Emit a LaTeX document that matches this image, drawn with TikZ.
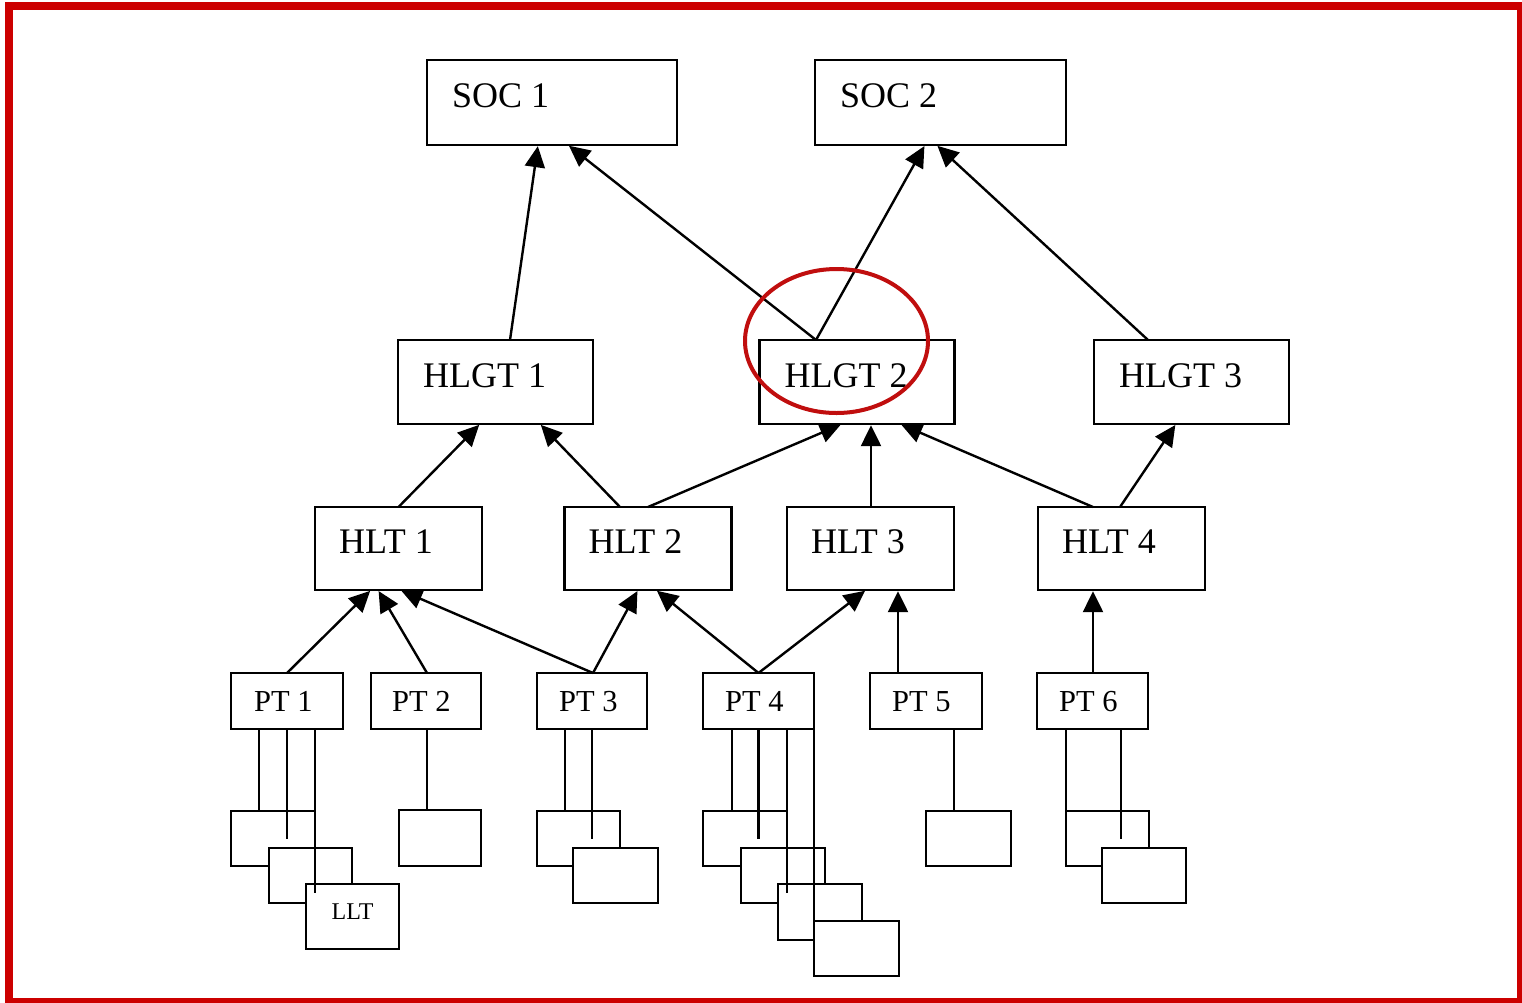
\documentclass[tikz,border=0pt]{standalone}
\usepackage{fontspec}
\setmainfont{Liberation Serif}
\usetikzlibrary{arrows.meta}
\definecolor{bordred}{RGB}{204,0,0}
\definecolor{markred}{RGB}{192,14,14}
\begin{document}
\begin{tikzpicture}[x=1pt,y=-1pt,
  box/.style={draw, line width=2.7pt, fill=white, inner sep=0pt, outer sep=0pt},
  socbox/.style={box, minimum width=250pt, minimum height=85pt},
  hlgtbox/.style={box, minimum width=195pt, minimum height=84pt},
  hltbox/.style={box, minimum width=167pt, minimum height=83pt},
  ptbox/.style={box, minimum width=111pt, minimum height=56pt},
  lltbox/.style={box, minimum width=84pt, minimum height=55pt},
  arr/.style={line width=2.4pt, -{Triangle[length=21pt,width=20pt]}, shorten >=1.2pt},
  link/.style={line width=2.5pt},
  bigtxt/.style={font=\fontsize{36}{40}\selectfont, anchor=base west, inner sep=0pt},
  pttxt/.style={font=\fontsize{30.5}{33}\selectfont, anchor=base west, inner sep=0pt},
  llttxt/.style={font=\fontsize{24}{26}\selectfont, anchor=base, inner sep=0pt}]
\useasboundingbox (0,0) rectangle (1522,1002);
\fill[white] (0,0) rectangle (1522,1002);
\draw[bordred, line width=8pt] (9,6) rectangle (1521,1002);

% top level
\node[socbox] (soc1) at (552,102.5) {};
\node[socbox, minimum width=251pt] (soc2) at (940.5,102.5) {};
\node[bigtxt] (tsoc1) at ([shift={(25pt,-47pt)}]soc1.north west) {SOC 1};
\node[bigtxt] (tsoc2) at ([shift={(25pt,-47pt)}]soc2.north west) {SOC 2};

% HLGT
\node[hlgtbox] (hlgt1) at (495.5,382) {};
\node[hlgtbox] (hlgt2) at (857,382) {};
\node[hlgtbox] (hlgt3) at (1191.5,382) {};
\node[bigtxt] (thlgt1) at ([shift={(25pt,-47pt)}]hlgt1.north west) {HLGT 1};
\node[bigtxt] (thlgt2) at ([shift={(25pt,-47pt)}]hlgt2.north west) {HLGT 2};
\node[bigtxt] (thlgt3) at ([shift={(25pt,-47pt)}]hlgt3.north west) {HLGT 3};

% HLT
\node[hltbox] (hlt1) at (398.5,548.5) {};
\node[hltbox] (hlt2) at (648,548.5) {};
\node[hltbox] (hlt3) at (870.5,548.5) {};
\node[hltbox] (hlt4) at (1121.5,548.5) {};
\node[bigtxt] (thlt1) at ([shift={(24pt,-46pt)}]hlt1.north west) {HLT 1};
\node[bigtxt] (thlt2) at ([shift={(24pt,-46pt)}]hlt2.north west) {HLT 2};
\node[bigtxt] (thlt3) at ([shift={(24pt,-46pt)}]hlt3.north west) {HLT 3};
\node[bigtxt] (thlt4) at ([shift={(24pt,-46pt)}]hlt4.north west) {HLT 4};

% PT
\node[ptbox, minimum width=112pt] (pt1) at (287,701) {};
\node[ptbox, minimum width=110pt] (pt2) at (426,701) {};
\node[ptbox, minimum width=110pt] (pt3) at (592,701) {};
\node[ptbox] (pt4) at (758.5,701) {};
\node[ptbox, minimum width=112pt] (pt5) at (926,701) {};
\node[ptbox] (pt6) at (1092.5,701) {};
\node[pttxt] (tpt1) at ([shift={(23pt,-38pt)}]pt1.north west) {PT 1};
\node[pttxt] (tpt2) at ([shift={(21pt,-38pt)}]pt2.north west) {PT 2};
\node[pttxt] (tpt3) at ([shift={(22pt,-38pt)}]pt3.north west) {PT 3};
\node[pttxt] (tpt4) at ([shift={(22pt,-38pt)}]pt4.north west) {PT 4};
\node[pttxt] (tpt5) at ([shift={(22pt,-38pt)}]pt5.north west) {PT 5};
\node[pttxt] (tpt6) at ([shift={(22pt,-38pt)}]pt6.north west) {PT 6};

% arrows to SOC
\draw[arr] ([xshift=14.5pt]hlgt1.north) -- ([xshift=-14pt]soc1.south);
\draw[arr] ([xshift=-41pt]hlgt2.north) -- ([xshift=16pt]soc1.south);
\draw[arr] ([xshift=-41pt]hlgt2.north) -- ([xshift=-15.5pt]soc2.south);
\draw[arr] ([xshift=-43.5pt]hlgt3.north) -- ([xshift=-4pt]soc2.south);

% arrows to HLGT
\draw[arr] ([xshift=0pt]hlt1.north) -- ([xshift=-15.5pt]hlgt1.south);
\draw[arr] ([xshift=-28pt]hlt2.north) -- ([xshift=44.5pt]hlgt1.south);
\draw[arr] ([xshift=0pt]hlt2.north) -- ([xshift=-15pt]hlgt2.south);
\draw[arr] ([xshift=0.5pt]hlt3.north) -- ([xshift=14pt]hlgt2.south);
\draw[arr] ([xshift=-28.5pt]hlt4.north) -- ([xshift=43pt]hlgt2.south);
\draw[arr] ([xshift=-1.5pt]hlt4.north) -- ([xshift=-15.5pt]hlgt3.south);

% arrows to HLT
\draw[arr] (pt1.north) -- ([xshift=-27.5pt]hlt1.south);
\draw[arr] ([xshift=1pt]pt2.north) -- ([xshift=-20.5pt]hlt1.south);
\draw[arr] ([xshift=1pt]pt3.north) -- ([xshift=1.5pt]hlt1.south);
\draw[arr] ([xshift=1pt]pt3.north) -- ([xshift=-10pt]hlt2.south);
\draw[arr] (pt4.north) -- ([xshift=8pt]hlt2.south);
\draw[arr] (pt4.north) -- ([xshift=-4.5pt]hlt3.south);
\draw[arr] ([xshift=-28pt]pt5.north) -- ([xshift=27.5pt]hlt3.south);
\draw[arr] ([xshift=0.5pt]pt6.north) -- ([xshift=-28.5pt]hlt4.south);

% LLT boxes, PT 1
\node[lltbox] (l1a) at (273,838.5) {};
\node[lltbox, minimum width=83pt] (l1b) at (310.5,875.5) {};
\node[lltbox, minimum width=93pt, minimum height=65pt] (l1c) at (352.5,916.5) {};
\node[llttxt] (tllt) at (352.5,919) {LLT};
\draw[link] ([xshift=-28pt]pt1.south) -- ([xshift=-28pt]pt1.south |- l1a.north);
\draw[link] (pt1.south) -- (pt1.south |- l1a.center);
\draw[link] ([xshift=28pt]pt1.south) -- ([xshift=28pt,yshift=-9pt]pt1.south |- l1c.north);

% PT 2
\node[lltbox, minimum width=82pt, minimum height=56pt] (l2a) at (440,838) {};
\draw[link] ([xshift=1pt]pt2.south) -- ([xshift=1pt]pt2.south |- l2a.north);

% PT 3
\node[lltbox, minimum width=83pt] (l3a) at (578.5,838.5) {};
\node[lltbox, minimum width=85pt] (l3b) at (615.5,875.5) {};
\draw[link] ([xshift=-27pt]pt3.south) -- ([xshift=-27pt]pt3.south |- l3a.north);
\draw[link] (pt3.south) -- (pt3.south |- l3a.center);

% PT 4
\node[lltbox] (l4a) at (745,838.5) {};
\node[lltbox] (l4b) at (783,875.5) {};
\node[lltbox, minimum height=56pt] (l4c) at (820,912) {};
\node[lltbox, minimum width=85pt] (l4d) at (856.5,948.5) {};
\draw[link] ([xshift=-26.5pt]pt4.south) -- ([xshift=-26.5pt]pt4.south |- l4a.north);
\draw[link] (pt4.south) -- (pt4.south |- l4a.center);
\draw[link] ([xshift=28.5pt]pt4.south) -- ([xshift=28.5pt,yshift=-9pt]pt4.south |- l4c.north);
\draw[link] (pt4.south east) -- (pt4.south east |- l4d.north);

% PT 5
\node[lltbox, minimum width=85pt] (l5a) at (968.5,838.5) {};
\draw[link] ([xshift=28pt]pt5.south) -- ([xshift=28pt]pt5.south |- l5a.north);

% PT 6
\node[lltbox, minimum width=83pt] (l6a) at (1107.5,838.5) {};
\node[lltbox] (l6b) at (1144,875.5) {};
\draw[link] (pt6.south -| l6a.west) -- (l6a.north west);
\draw[link] ([xshift=28.5pt]pt6.south) -- ([xshift=28.5pt]pt6.south |- l6a.center);

% highlight
\draw[markred, line width=4pt] (836.5,341) ellipse [x radius=91.5, y radius=72];
\end{tikzpicture}
\end{document}
